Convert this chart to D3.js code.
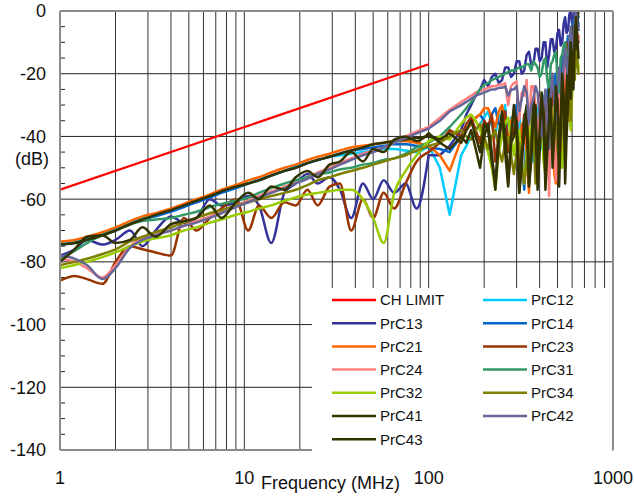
<!DOCTYPE html>
<html><head><meta charset="utf-8">
<script src="https://cdn.jsdelivr.net/npm/d3@7"></script>
<style>body{margin:0;background:#fff}svg{display:block;font-family:"Liberation Sans",Arial,sans-serif}</style>
</head><body><svg id="c" width="634" height="498"></svg>
<script>
// Frequency grid (MHz) shared by all measured series
const freqs = [1,1.2,1.4,1.7,2,2.4,2.8,3.3,4,4.7,5.5,6.5,7.5,9,10.5,
  12,14,16.5,19,22,25,29,33,38,44,50,57,65,75,86,
  100,115,130,
  150,160,170,180,190,200,210,220,230,240,250,260,270,280,290,300,310,320,330,340,350,
  360,370,380,390,400,410,420,430,440,450,460,470,480,490,500,510,520,530,540,550,
  560,570,580,590,600,610,620,630,640,650];

const limitFreqs = [1, 100];
const limitDb = [-57, -17];

const prc12 = [-74,-73.5,-72.5,-71,-69.5,-67.5,-66,-65,-63.5,-62,-60.5,-59,-57.5,-56,-55,
  -53.5,-52.5,-51,-49.5,-48.5,-47.5,-46.5,-46,-45.5,-45,-44.5,-44,-44,-44.5,-45,
  -43,-50,-65,
  -46,-43,-40,-38,-36,-34,-32,-36,-40,-33,-35,-30,-45,-34,-38,-30,-31,-44,-42,-33,-36,
  -29,-48,-30,-32,-42,-44,-27,-28,-38,-40,-24,-25,-36,-35,-22,-20,-33,-30,-18,-15,
  -28,-22,-12,-10,-18,-5,-8,-12,-3,-4];
const prc13 = [-78,-76,-73,-74.5,-73,-70,-75,-70,-65.5,-67.5,-66,-60,-62,-61,-59,
  -62,-74,-58,-55,-52,-55,-53,-57,-66,-55,-60,-54,-58,-55,-63,
  -46,-46,-43,
  -38,-33,-30,-27,-25,-22,-24,-21,-20,-23,-22,-18,-18,-21,-20,-16,-16,-20,-19,-14,-13,
  -17,-17,-12,-12,-16,-15,-10,-10,-18,-14,-9,-9,-13,-12,-7,-6,-11,-10,-4,-2,
  -7,-6,-1,0,-4,-3,0,0,-2,-5];
const prc14 = [-74.5,-74,-73,-71.5,-70,-68,-66.5,-65.5,-64,-62.5,-61,-59.5,-58,-56.5,-55,
  -54,-52.5,-51,-50,-48.5,-47.5,-46.5,-45.5,-44.5,-44,-43.5,-43,-42.5,-42.5,-43,
  -43.5,-44,-45,
  -40,-38,-36,-34,-33,-35,-38,-33,-31,-36,-36,-32,-42,-38,-34,-30,-52,-48,-57,-36,-40,
  -32,-30,-44,-46,-30,-28,-40,-38,-26,-24,-35,-32,-22,-20,-34,-30,-18,-14,-26,-22,
  -12,-8,-20,-15,-6,-3,-10,-8,-2,-2];
const prc21 = [-73.5,-73,-72,-70.5,-69,-67,-65.5,-64.5,-63,-61.5,-60,-58.5,-57,-55.5,-54,
  -53,-51.5,-50,-49,-47.5,-46.5,-45.5,-44.5,-43.5,-43,-42.5,-42,-41.5,-41.5,-42,
  -43,-46,-51,
  -41,-38,-36,-34,-33,-31,-31,-34,-37,-32,-30,-36,-42,-35,-33,-40,-48,-36,-38,-45,-58,
  -40,-35,-38,-45,-32,-30,-42,-50,-35,-28,-33,-40,-52,-55,-30,-26,-38,-46,-28,-20,
  -30,-35,-18,-12,-24,-20,-8,-5,-10,-8];
const prc23 = [-86,-84.5,-85.5,-87,-80,-75,-76,-77,-78,-66,-70,-66,-63,-60,-70,
  -62,-66,-61,-62,-57,-62,-56,-55,-70,-60,-66,-58,-63,-55,-48,
  -45,-42,-38,
  -40,-36,-34,-38,-42,-35,-37,-33,-48,-40,-36,-32,-45,-40,-38,-34,-50,-42,-33,-38,-44,
  -36,-30,-40,-48,-33,-35,-30,-28,-38,-42,-28,-25,-35,-38,-24,-22,-30,-35,-20,-18,
  -14,-10,-16,-20,-12,-8,-6,-3,-8,-10];
const prc24 = [-79,-80,-82,-85,-81,-75,-72.5,-71,-70,-68.5,-67,-65.5,-64,-62,-60.5,
  -59,-57.5,-56,-54.5,-53,-51.5,-50,-48.5,-47,-45.5,-44.5,-43.5,-42,-40,-38.5,
  -37,-34,-31.5,
  -29,-28,-27,-26,-25.5,-25,-24.5,-24,-24,-23.5,-23.5,-23,-30,-24,-23,-22.5,-35,-26,-27,-22,-40,
  -24,-24,-30,-45,-28,-29,-40,-50,-30,-59,-35,-31,-42,-54,-28,-22,-35,-30,-20,-15,
  -22,-25,-12,-8,-18,-15,-6,-4,-10,-8];
const prc31 = [-79,-76.5,-74,-71.5,-70,-68,-67,-66.5,-66,-65,-64,-62.5,-61.5,-60.5,-59.5,
  -58,-56.5,-55,-54,-53,-52,-51.5,-50.5,-50,-49,-48.5,-47.5,-47,-45.5,-43.5,
  -42,-40,-37,
  -33,-31,-29,-27,-25,-23.5,-23,-22,-21.5,-21,-20.5,-20,-19.5,-19,-19,-18.5,-18,-18,-17.5,-17,-17,
  -19,-16,-17,-18,-21,-20,-16,-15,-22,-25,-17,-16,-14,-13,-22,-26,-15,-14,-11,-10,
  -18,-16,-9,-7,-13,-11,-4,-2,-5,-6];
const prc32 = [-82,-81,-80,-78.5,-77,-75,-73.5,-72.5,-71.5,-70,-69,-67.5,-66.5,-65,-64,
  -63,-62,-60.5,-59.5,-58.5,-58,-57.5,-57,-57,-60,-66,-74,-58,-51,-46,
  -41.5,-40,-41,
  -36,-34,-33,-35,-38,-42,-45,-50,-57,-45,-40,-36,-34,-40,-46,-40,-38,-48,-55,-45,-42,
  -35,-30,-38,-45,-40,-36,-48,-52,-38,-32,-40,-44,-30,-28,-36,-40,-48,-50,-38,-33,
  -28,-25,-32,-38,-26,-20,-16,-12,-15,-18];
const prc34 = [-81,-80,-79,-77.5,-76,-73.5,-72,-70.5,-69,-67.5,-66,-64.5,-63.5,-62,-61,
  -60,-59,-58,-57,-55.5,-54,-53,-52,-51,-50,-49,-48,-47,-46,-44.5,
  -43,-42,-40,
  -38,-40,-41,-38,-36,-40,-44,-40,-38,-44,-48,-42,-40,-46,-52,-45,-42,-50,-55,-48,-45,
  -40,-38,-55,-50,-42,-35,-40,-46,-36,-30,-38,-42,-36,-34,-44,-48,-36,-30,-40,-44,
  -32,-25,-30,-35,-24,-18,-22,-12,-16,-20];
const prc41 = [-74.5,-74,-73,-71.5,-70,-68,-66.5,-65,-63.5,-62,-60.5,-59,-57.5,-56,-55,
  -54,-52.5,-51,-50,-48.5,-47.5,-46.5,-45.5,-44.5,-43.5,-42.5,-42,-41.5,-41,-40.5,
  -40,-41,-39,
  -42,-38,-35,-40,-45,-36,-38,-48,-55,-40,-32,-45,-56,-42,-40,-35,-58,-50,-35,-30,-55,
  -45,-28,-38,-57,-45,-33,-30,-50,-42,-25,-35,-45,-38,-30,-28,-56,-40,-22,-30,-40,
  -25,-15,-22,-28,-12,-5,-10,-12,-3,0];
const prc42 = [-78,-79,-81,-85.5,-82,-75.5,-73,-71.5,-70,-68.5,-67.5,-66,-64.5,-62.5,-61,
  -59.5,-58,-56.5,-55,-53.5,-52,-50.5,-49,-47.5,-46,-45,-43.5,-42,-40.5,-39,
  -37.5,-35,-32,
  -30,-29,-28,-27,-26.5,-26,-25.5,-25,-25,-24.5,-24.5,-24,-27,-25,-25,-24,-32,-28,-24,-26,-36,
  -30,-28,-24,-26,-34,-40,-30,-25,-35,-44,-26,-20,-28,-35,-24,-18,-22,-28,-16,-12,
  -18,-20,-10,-5,-12,-10,-3,0,-4,-6];
const prc43 = [-80,-76,-72,-71.5,-74,-73,-69,-72,-68,-67,-66,-62,-66,-61,-58,
  -60,-56,-57,-53,-51,-53,-49,-48,-45,-48,-44,-45,-41,-40,-41.5,
  -39,-42,-44,
  -40,-42,-38,-44,-50,-40,-36,-45,-57,-42,-34,-38,-55,-40,-30,-38,-58,-45,-40,-35,-56,
  -48,-32,-30,-52,-38,-26,-35,-57,-45,-35,-28,-50,-40,-24,-30,-45,-35,-20,-28,-55,
  -40,-30,-18,-10,-20,-25,-8,-2,-8,-15];

const seriesNames = ["PrC12","PrC13","PrC14","PrC21","PrC23","PrC24","PrC31","PrC32","PrC34","PrC41","PrC42","PrC43"];
const seriesValues = [prc12,prc13,prc14,prc21,prc23,prc24,prc31,prc32,prc34,prc41,prc42,prc43];
const seriesColors = ["#00ccff","#333399","#0066cc","#ff6600","#993300","#ff8080","#339966","#99cc00","#808000","#333300","#666699","#333300"];

const xTickLabels = [1,10,100,1000];
const yTickLabels = [0,-20,-40,-60,-80,-100,-120,-140];

const svg = d3.select("#c");
const X0=60, X1=613, Y0=11, Y1=450;
const x = d3.scaleLog().domain([1,1000]).range([X0,X1]);
const y = d3.scaleLinear().domain([-140,0]).range([Y1,Y0]);

svg.append("rect").attr("width",634).attr("height",498).attr("fill","#fff");

// grid
const vgrid = [];
[1,10,100].forEach(d=>{for(let k=2;k<=10;k++) vgrid.push(d*k);});
svg.append("g").selectAll("line").data(vgrid.filter(v=>v<1000)).join("line")
  .attr("x1",d=>x(d)).attr("x2",d=>x(d)).attr("y1",Y0).attr("y2",Y1)
  .attr("stroke","#333").attr("stroke-width",1);
svg.append("g").selectAll("line").data(yTickLabels.filter(v=>v>-140&&v<0)).join("line")
  .attr("x1",X0).attr("x2",X1).attr("y1",d=>y(d)).attr("y2",d=>y(d))
  .attr("stroke","#222").attr("stroke-width",1);
// minor ticks
svg.append("g").selectAll("line").data(d3.range(-135,0,5).filter(v=>v%20!==0)).join("line")
  .attr("x1",X0).attr("x2",X0+5).attr("y1",d=>y(d)).attr("y2",d=>y(d))
  .attr("stroke","#222").attr("stroke-width",1);

// clip
svg.append("clipPath").attr("id","pc").append("rect")
  .attr("x",X0).attr("y",Y0).attr("width",X1-X0).attr("height",Y1-Y0);
const plot = svg.append("g").attr("clip-path","url(#pc)");
const lineSmooth = d3.line().x(d=>x(d[0])).y(d=>y(d[1])).curve(d3.curveMonotoneX);
const lineSharp = d3.line().x(d=>x(d[0])).y(d=>y(d[1]));

plot.append("path").attr("d",lineSharp(limitFreqs.map((f,i)=>[f,limitDb[i]])))
  .attr("fill","none").attr("stroke","#ff0000").attr("stroke-width",2.2);
seriesValues.forEach((vals,si)=>{
  const pts = freqs.map((f,i)=>[f,vals[i]]);
  const g = plot.append("g").attr("fill","none").attr("stroke",seriesColors[si])
    .attr("stroke-width",2.5).attr("stroke-linejoin","round").attr("stroke-linecap","round");
  g.append("path").attr("d",lineSmooth(pts.filter(p=>p[0]<=100)));
  g.append("path").attr("d",lineSharp(pts.filter(p=>p[0]>=100)));
});

// border
const border = svg.append("g").attr("stroke","#8c8c8c").attr("stroke-width",2).attr("fill","none");
border.append("line").attr("x1",X0).attr("x2",X0).attr("y1",Y0).attr("y2",Y1);
border.append("line").attr("x1",X0).attr("x2",X1).attr("y1",Y0).attr("y2",Y0);
border.append("line").attr("x1",X0).attr("x2",X1).attr("y1",Y1).attr("y2",Y1);

// legend
const leg = svg.append("g");
leg.append("rect").attr("x",312).attr("y",288).attr("width",300).attr("height",165).attr("fill","#fff");
const legNames = ["CH LIMIT"].concat(seriesNames);
const legColors = ["#ff0000"].concat(seriesColors);
legNames.forEach((n,i)=>{
  const col=i%2, row=Math.floor(i/2);
  const lx = col===0?332:483, ly = 300+row*23.2;
  leg.append("line").attr("x1",lx).attr("x2",lx+44).attr("y1",ly).attr("y2",ly)
    .attr("stroke",legColors[i]).attr("stroke-width",2.5);
  leg.append("text").attr("x",lx+48).attr("y",ly).attr("dy","0.36em")
    .attr("font-size",15).attr("fill","#111").text(n);
});
svg.append("line").attr("x1",X1).attr("x2",X1).attr("y1",Y0).attr("y2",Y1)
  .attr("stroke","#8c8c8c").attr("stroke-width",2);

// axis labels
svg.append("g").selectAll("text").data(yTickLabels).join("text")
  .attr("x",46).attr("y",d=>y(d)).attr("dy","0.36em").attr("text-anchor","end")
  .attr("font-size",18).attr("fill","#111").text(d=>d);
svg.append("g").selectAll("text").data(xTickLabels).join("text")
  .attr("x",d=>x(d)).attr("y",478).attr("dy","0.36em").attr("text-anchor","middle")
  .attr("font-size",18).attr("fill","#111").text(d=>d);
svg.append("text").attr("x",261).attr("y",483).attr("dy","0.36em")
  .attr("font-size",18).attr("fill","#111").text("Frequency (MHz)");
svg.append("text").attr("x",15).attr("y",159).attr("dy","0.36em")
  .attr("font-size",18).attr("fill","#111").text("(dB)");
</script></body></html>
